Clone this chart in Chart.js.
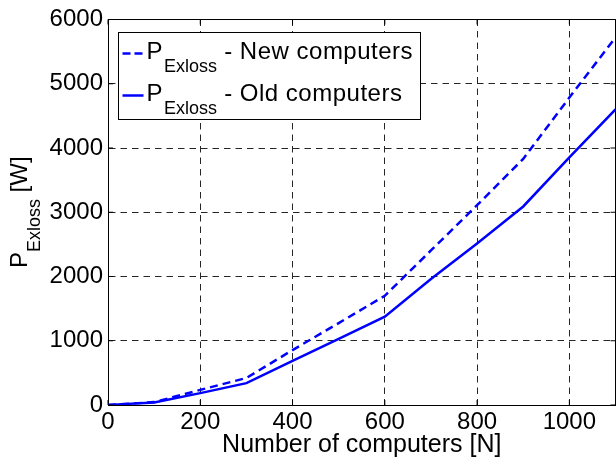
<!DOCTYPE html>
<html lang="en">
<head>
<meta charset="UTF-8" />
<title>P Exloss vs number of computers</title>
<style>
  html, body { margin: 0; padding: 0; background: #fff; }
  .chart-box { position: relative; width: 616px; height: 459px; }
</style>
</head>
<body>
<div class="chart-box"><canvas id="lossChart"></canvas></div>
<script src="https://cdn.jsdelivr.net/npm/chart.js"></script>
<script>
  // values
  const computers = [0, 100, 200, 300, 400, 500, 600, 700, 800, 900, 1000, 1100];
  const newLoss = [0, 45, 235, 420, 855, 1275, 1700, 2405, 3110, 3830, 4785, 5720];
  const oldLoss = [0, 40, 185, 340, 685, 1030, 1375, 1960, 2515, 3090, 3855, 4600];
  const seriesNames = ['New computers', 'Old computers'];
  const xTicks = [0, 200, 400, 600, 800, 1000];
  const yTicks = [0, 1000, 2000, 3000, 4000, 5000, 6000];

  const FONT = "'Liberation Sans', Arial, Helvetica, sans-serif";
  const BLUE = '#0000ff';
  const GRID_DASH = [6.5, 5];

  const toPoints = (ys) => computers.map((x, i) => ({ x: x, y: ys[i] }));

  // draws "P" + lowered "Exloss" + the rest, returns end x
  function drawSubText(ctx, x, y, main, sub, rest) {
    ctx.font = '24px ' + FONT;
    ctx.fillText(main, x, y);
    x += ctx.measureText(main).width;
    ctx.font = '18px ' + FONT;
    ctx.fillText(sub, x, y + 13);
    x += ctx.measureText(sub).width;
    ctx.font = '24px ' + FONT;
    ctx.fillText(rest, x, y);
    return x + ctx.measureText(rest).width;
  }

  const decorations = {
    id: 'decorations',
    afterDraw(chart) {
      const ctx = chart.ctx;
      const area = chart.chartArea;
      const xs = chart.scales.x, ys = chart.scales.y;
      ctx.save();

      // box: top and right edges
      ctx.strokeStyle = '#000';
      ctx.lineWidth = 1;
      ctx.setLineDash([]);
      ctx.beginPath();
      ctx.moveTo(area.left, area.top);
      ctx.lineTo(area.right, area.top);
      ctx.lineTo(area.right, area.bottom);
      ctx.stroke();

      // inward tick marks
      ctx.beginPath();
      yTicks.forEach(v => {
        const py = ys.getPixelForValue(v);
        ctx.moveTo(area.left, py); ctx.lineTo(area.left + 5, py);
        ctx.moveTo(area.right, py); ctx.lineTo(area.right - 5, py);
      });
      xTicks.forEach(v => {
        const px = xs.getPixelForValue(v);
        ctx.moveTo(px, area.bottom); ctx.lineTo(px, area.bottom - 5);
        ctx.moveTo(px, area.top); ctx.lineTo(px, area.top + 5);
      });
      ctx.stroke();

      // y axis title with subscript
      ctx.fillStyle = '#000';
      ctx.textBaseline = 'alphabetic';
      ctx.textAlign = 'left';
      ctx.save();
      ctx.translate(26.5, (area.top + area.bottom) / 2);
      ctx.rotate(-Math.PI / 2);
      ctx.font = '24px ' + FONT;
      let w = ctx.measureText('P').width + ctx.measureText(' [W]').width;
      ctx.font = '18px ' + FONT;
      w += ctx.measureText('Exloss').width;
      drawSubText(ctx, -w / 2, 0, 'P', 'Exloss', ' [W]');
      ctx.restore();

      // legend
      const left = 118.5, top = 32.5, bottom = 119.5, right = 420.5;
      const rows = [58.5, 100.5];
      ctx.fillStyle = '#fff';
      ctx.fillRect(left, top, right - left, bottom - top);
      ctx.strokeStyle = '#000';
      ctx.lineWidth = 1;
      ctx.strokeRect(left, top, right - left, bottom - top);

      seriesNames.forEach((name, i) => {
        const base = rows[i];
        ctx.strokeStyle = BLUE;
        ctx.lineWidth = 2.5;
        ctx.setLineDash(i === 0 ? [8, 4] : []);
        ctx.beginPath();
        ctx.moveTo(left + 4, base - 5);
        ctx.lineTo(left + 25, base - 5);
        ctx.stroke();
        ctx.setLineDash([]);
        ctx.fillStyle = '#000';
        ctx.letterSpacing = '0px';
        ctx.font = '24px ' + FONT;
        ctx.fillText('P', left + 28, base);
        let x = left + 28 + ctx.measureText('P').width + 1.5;
        ctx.font = '18px ' + FONT;
        ctx.fillText('Exloss', x, base + 13);
        x += ctx.measureText('Exloss').width;
        ctx.font = '24px ' + FONT;
        ctx.letterSpacing = '0.5px';
        ctx.fillText(' - ' + name, x, base);
        ctx.letterSpacing = '0px';
      });
      ctx.restore();
    }
  };

  const plainNum = (v) => String(v);

  const ctx = document.getElementById('lossChart').getContext('2d');
  const lossChart = new Chart(ctx, {
    type: 'line',
    data: {
      datasets: [
        {
          label: seriesNames[0],
          data: toPoints(newLoss),
          borderColor: BLUE,
          borderWidth: 2.5,
          borderDash: [8, 5],
          pointRadius: 0,
          tension: 0,
          fill: false
        },
        {
          label: seriesNames[1],
          data: toPoints(oldLoss),
          borderColor: BLUE,
          borderWidth: 2.5,
          pointRadius: 0,
          tension: 0,
          fill: false
        }
      ]
    },
    options: {
      responsive: true,
      maintainAspectRatio: false,
      animation: false,
      layout: { padding: { left: 0, right: 0.5, top: 19.5, bottom: 0 } },
      plugins: {
        legend: { display: false },
        tooltip: { enabled: false }
      },
      scales: {
        x: {
          type: 'linear',
          min: 0,
          max: 1100,
          afterBuildTicks: s => { s.ticks = xTicks.map(v => ({ value: v })); },
          afterFit: s => { s.height = 54; },
          ticks: {
            color: '#000',
            padding: 5,
            font: { family: FONT, size: 24, lineHeight: 1 },
            maxRotation: 0,
            callback: plainNum
          },
          grid: {
            color: 'rgba(0,0,0,0.85)',
            lineWidth: 1,
            drawTicks: false
          },
          border: { display: true, color: '#000', width: 1, dash: GRID_DASH },
          title: {
            display: true,
            text: 'Number of computers [N]',
            color: '#000',
            font: { family: FONT, size: 25, lineHeight: 1 },
            padding: { top: 0, bottom: 1.2 }
          }
        },
        y: {
          min: 0,
          max: 6000,
          afterBuildTicks: s => { s.ticks = yTicks.map(v => ({ value: v })); },
          afterFit: s => { s.width = 108; },
          ticks: {
            color: '#000',
            padding: 5,
            font: { family: FONT, size: 24, lineHeight: 1 },
            callback: plainNum
          },
          grid: {
            color: 'rgba(0,0,0,0.85)',
            lineWidth: 1,
            drawTicks: false
          },
          border: { display: true, color: '#000', width: 1, dash: GRID_DASH }
        }
      }
    },
    plugins: [decorations]
  });
</script>
</body>
</html>
